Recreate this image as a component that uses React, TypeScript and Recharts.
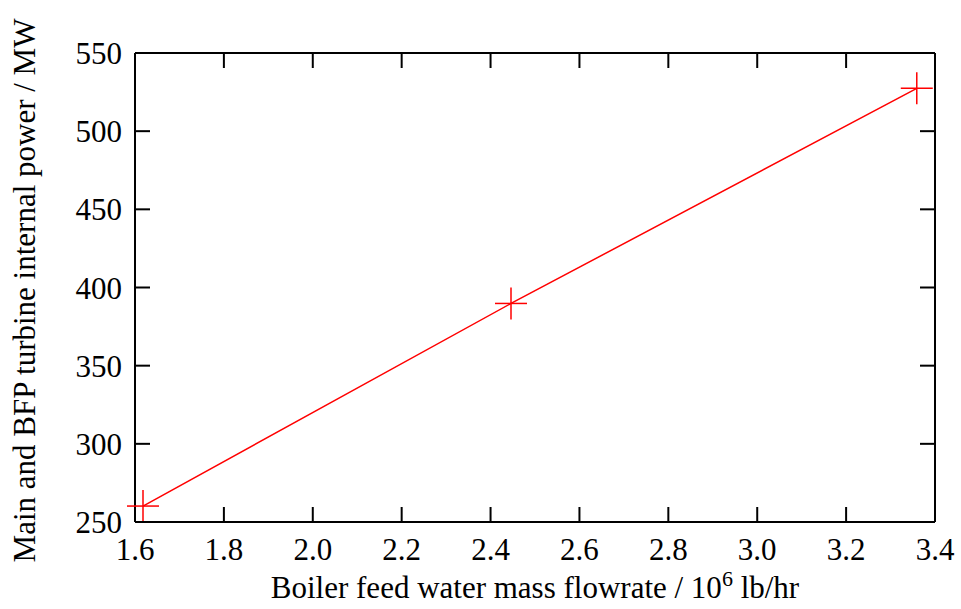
import React from 'react';
import { ScatterChart, Scatter, XAxis, YAxis, Label } from 'recharts';

// flowrate (10^6 lb/hr) against turbine power (MW)
const flowrate = [1.618, 2.446, 3.359];
const power = [260.2, 389.8, 527.4];
const xTicks = [1.6, 1.8, 2.0, 2.2, 2.4, 2.6, 2.8, 3.0, 3.2, 3.4];
const yTicks = [250, 300, 350, 400, 450, 500, 550];

const data = flowrate.map((x, i) => ({ x, y: power[i] }));

const FONT = '"Liberation Serif", "Times New Roman", serif';
const FS = 31;
const TICK = 15;
const RED = '#ff0000';

const BottomTick = (props: any) => {
  const { x, y, payload } = props;
  return (
    <g>
      <line x1={x} x2={x} y1={y} y2={y - TICK} stroke="#000" strokeWidth={2} />
      <text x={x} y={y + 38} textAnchor="middle" fontFamily={FONT} fontSize={FS} fill="#000">
        {Number(payload.value).toFixed(1)}
      </text>
    </g>
  );
};

const TopTick = (props: any) => {
  const { x, y } = props;
  return <line x1={x} x2={x} y1={y} y2={y + TICK} stroke="#000" strokeWidth={2} />;
};

const LeftTick = (props: any) => {
  const { x, y, payload } = props;
  return (
    <g>
      <line x1={x} x2={x + TICK} y1={y} y2={y} stroke="#000" strokeWidth={2} />
      <text x={x - 13} y={y} dy="0.36em" textAnchor="end" fontFamily={FONT} fontSize={FS} fill="#000">
        {payload.value}
      </text>
    </g>
  );
};

const RightTick = (props: any) => {
  const { x, y } = props;
  return <line x1={x} x2={x - TICK} y1={y} y2={y} stroke="#000" strokeWidth={2} />;
};

const PlusShape = (props: any) => {
  const { cx, cy } = props;
  const r = 16;
  return (
    <g stroke={RED} strokeWidth={1.5}>
      <line x1={cx - r} x2={cx + r} y1={cy} y2={cy} />
      <line x1={cx} x2={cx} y1={cy - r} y2={cy + r} />
    </g>
  );
};

const NoShape = () => <g />;

const XTitle = (props: any) => {
  const vb = props.viewBox || {};
  const cx = (vb.x ?? 135) + (vb.width ?? 800) / 2;
  const y = (vb.y ?? 522) + 76;
  return (
    <text x={cx} y={y} textAnchor="middle" fontFamily={FONT} fontSize={FS} fill="#000">
      <tspan>Boiler feed water mass flowrate / 10</tspan>
      <tspan dy={-12} fontSize={22}>6</tspan>
      <tspan dy={12}>{' lb/hr'}</tspan>
    </text>
  );
};

const YTitle = (props: any) => {
  const vb = props.viewBox || {};
  const cy = (vb.y ?? 53) + (vb.height ?? 469) / 2 + 3;
  const x = 35;
  return (
    <text
      x={x}
      y={cy}
      transform={`rotate(-90, ${x}, ${cy})`}
      textAnchor="middle"
      fontFamily={FONT}
      fontSize={FS}
      fill="#000"
    >
      Main and BFP turbine internal power / MW
    </text>
  );
};

export default function App() {
  return (
    <div style={{ position: 'absolute', left: 0, top: 0, width: 961, height: 609, background: '#fff' }}>
      <ScatterChart width={961} height={609} margin={{ top: 52, right: 25, bottom: 0, left: 0 }}>
        <XAxis
          xAxisId="b"
          type="number"
          dataKey="x"
          domain={[1.6, 3.4]}
          ticks={xTicks}
          interval={0}
          height={87}
          tickSize={0}
          tickMargin={0}
          tickLine={false}
          axisLine={{ stroke: '#000', strokeWidth: 2 }}
          tick={<BottomTick />}
        >
          <Label content={<XTitle />} />
        </XAxis>
        <XAxis
          xAxisId="t"
          orientation="top"
          type="number"
          dataKey="x"
          domain={[1.6, 3.4]}
          ticks={xTicks}
          interval={0}
          height={1}
          tickSize={0}
          tickMargin={0}
          tickLine={false}
          axisLine={{ stroke: '#000', strokeWidth: 2 }}
          tick={<TopTick />}
        />
        <YAxis
          yAxisId="l"
          type="number"
          dataKey="y"
          domain={[250, 550]}
          ticks={yTicks}
          interval={0}
          width={135}
          tickSize={0}
          tickMargin={0}
          tickLine={false}
          axisLine={{ stroke: '#000', strokeWidth: 2 }}
          tick={<LeftTick />}
        >
          <Label content={<YTitle />} />
        </YAxis>
        <YAxis
          yAxisId="r"
          orientation="right"
          type="number"
          dataKey="y"
          domain={[250, 550]}
          ticks={yTicks}
          interval={0}
          width={1}
          tickSize={0}
          tickMargin={0}
          tickLine={false}
          axisLine={{ stroke: '#000', strokeWidth: 2 }}
          tick={<RightTick />}
        />
        {/* invisible series so the mirror axes get scales and ticks */}
        <Scatter
          xAxisId="t"
          yAxisId="r"
          data={data}
          shape={<NoShape />}
          legendType="none"
          isAnimationActive={false}
        />
        <Scatter
          xAxisId="b"
          yAxisId="l"
          data={data}
          line={{ stroke: RED, strokeWidth: 1.5 }}
          lineType="joint"
          shape={<PlusShape />}
          isAnimationActive={false}
        />
      </ScatterChart>
    </div>
  );
}
